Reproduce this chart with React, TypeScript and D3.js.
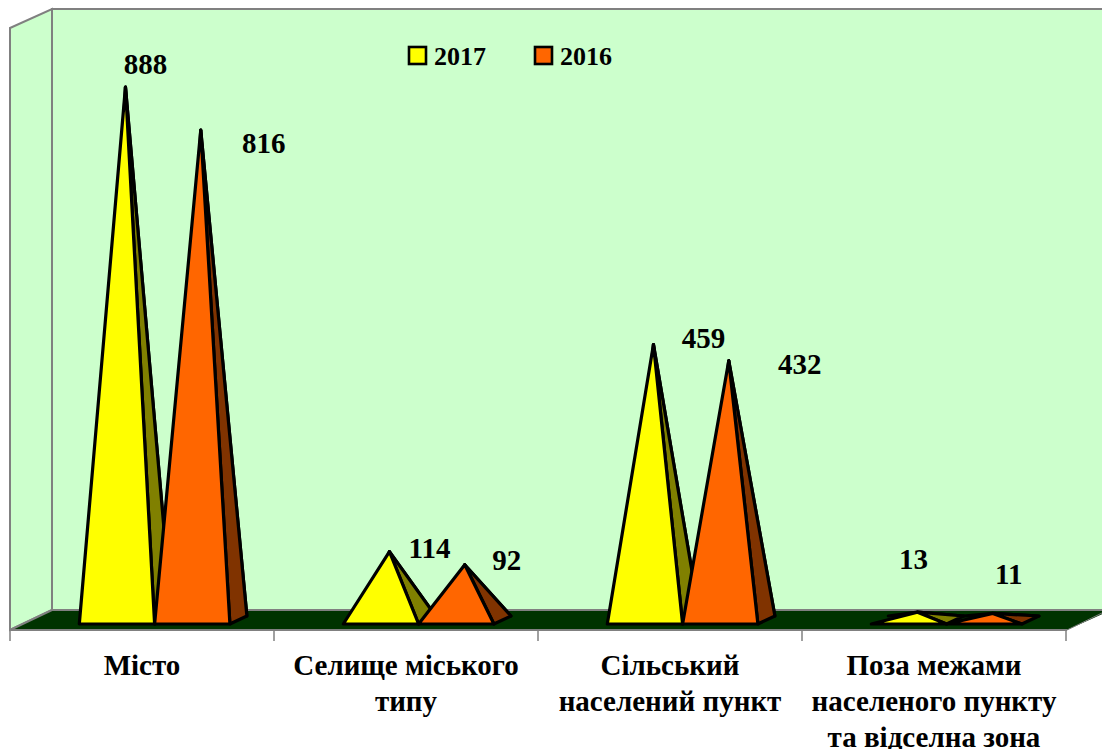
import React from "react";
import * as d3 from "d3";

const categories = ["Місто", "Селище міського типу", "Сільський населений пункт", "Поза межами населеного пункту та відселна зона"];
const categoryLines = [["Місто"], ["Селище міського", "типу"], ["Сільський", "населений пункт"], ["Поза межами", "населеного пункту", "та відселна зона"]];
const seriesNames = ["2017", "2016"];
const values2017 = [888, 114, 459, 13];
const values2016 = [816, 92, 432, 11];
const labelOffsets2017 = [[20, -13], [40, 6], [50, 4], [-4, -43]];
const labelOffsets2016 = [[85, 23], [64, 5], [93, 13], [38, -29]];

const W = 1102, H = 749;
const FX = 10, FR = 1066, FY = 630, DX = 42, DY = 20;
const BASE = 624, DEPTH_X = 17, DEPTH_Y = 8;
const FONT = "'Liberation Serif', 'Times New Roman', serif";

const x0 = d3.scaleBand<number>().domain(d3.range(categories.length)).range([FX, FR]).paddingInner(0).paddingOuter(0);
const barW = 75.3;
const inset = 69.3;
const y = d3.scaleLinear().domain([0, 888]).range([620, 87]);

const colors = [
  { front: "#FFFF00", side: "#808000" },
  { front: "#FF6600", side: "#803300" },
];
const pts = (a: number[][]) => a.map((p) => p.join(",")).join(" ");

function Pyramid({ left, value, c }: { left: number; value: number; c: { front: string; side: string } }) {
  const right = left + barW;
  const ax = left + barW / 2 + DEPTH_X / 2;
  const ay = y(value);
  return (
    <g stroke="#000" strokeWidth={3.2} strokeLinejoin="round">
      <polygon points={pts([[ax, ay], [left + DEPTH_X, BASE - DEPTH_Y], [right + DEPTH_X, BASE - DEPTH_Y]])} fill={c.side} />
      <polygon points={pts([[ax, ay], [right, BASE], [right + DEPTH_X, BASE - DEPTH_Y]])} fill={c.side} />
      <polygon points={pts([[ax, ay], [left, BASE], [right, BASE]])} fill={c.front} />
    </g>
  );
}

export default function App() {
  const step = x0.step();
  return (
    <svg width={W} height={H} viewBox={`0 0 ${W} ${H}`} style={{ position: "absolute", left: 0, top: 0, background: "#fff" }} fontFamily={FONT} fontWeight="bold">
      <polygon points={pts([[FX + DX, 9], [W + 5, 9], [W + 5, FY - DY], [FX + DX, FY - DY]])} fill="#CCFFCC" stroke="#808080" strokeWidth={2} />
      <polygon points={pts([[FX, 28], [FX + DX, 9], [FX + DX, FY - DY], [FX, FY]])} fill="#CCFFCC" stroke="#808080" strokeWidth={2} />
      <polygon points={pts([[FX, FY], [FX + DX, FY - DY], [W + 5, FY - DY], [W + 5, FY - DY + 2], [FR + 1, FY]])} fill="#003300" />
      <line x1={FX + DX} x2={W} y1={FY - DY} y2={FY - DY} stroke="#808080" strokeWidth={2} />
      <line x1={FX} x2={FX + DX} y1={FY} y2={FY - DY} stroke="#808080" strokeWidth={2} />
      <line x1={FX} x2={FR + 1} y1={FY} y2={FY} stroke="#808080" strokeWidth={2} />
      <line x1={FR + 1} x2={W} y1={FY} y2={FY - 17} stroke="#808080" strokeWidth={1} />
      {d3.range(categories.length + 1).map((i) => (
        <line key={i} x1={FX + i * step} x2={FX + i * step} y1={FY} y2={641} stroke="#808080" strokeWidth={1.5} />
      ))}

      {categories.map((_, i) => {
        const g0 = x0(i)! + inset;
        return (
          <g key={i}>
            <Pyramid left={g0} value={values2017[i]} c={colors[0]} />
            <Pyramid left={g0 + barW} value={values2016[i]} c={colors[1]} />
          </g>
        );
      })}

      <g fontSize={29} fill="#000" textAnchor="middle">
        {categories.map((_, i) => {
          const g0 = x0(i)! + inset;
          const ax1 = g0 + barW / 2 + DEPTH_X / 2;
          const ax2 = ax1 + barW;
          return (
            <g key={i}>
              <text x={ax1 + labelOffsets2017[i][0]} y={y(values2017[i]) + labelOffsets2017[i][1]}>{values2017[i]}</text>
              <text x={ax2 + labelOffsets2016[i][0] - 22} y={y(values2016[i]) + labelOffsets2016[i][1]}>{values2016[i]}</text>
            </g>
          );
        })}
      </g>

      <g fontSize={26} fill="#000">
        {seriesNames.map((s, i) => {
          const lx = 409 + i * 126;
          return (
            <g key={s}>
              <rect x={lx} y={47} width={17} height={17} fill={colors[i].front} stroke="#000" strokeWidth={2.6} />
              <text x={lx + 25} y={65}>{s}</text>
            </g>
          );
        })}
      </g>

      <g fontSize={29} fill="#000" textAnchor="middle">
        {categoryLines.map((lines, i) => (
          <g key={i}>
            {lines.map((l, j) => (
              <text key={j} x={x0(i)! + step / 2} y={675 + j * 36}>{l}</text>
            ))}
          </g>
        ))}
      </g>
    </svg>
  );
}
